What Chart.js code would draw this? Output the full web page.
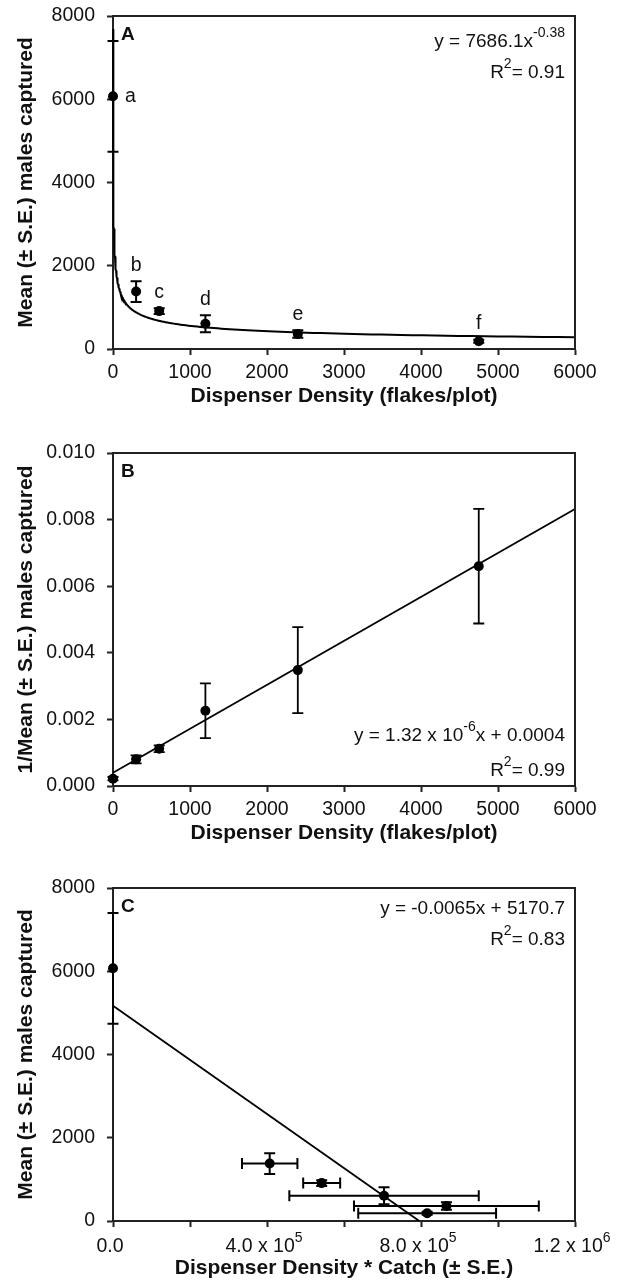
<!DOCTYPE html>
<html>
<head>
<meta charset="utf-8">
<title>Dispenser density vs males captured</title>
<style>
  html, body { margin: 0; padding: 0; background: #ffffff; overflow: hidden; width: 619px; height: 1287px; }
  .panel { position: absolute; left: 0; width: 619px; height: 437px; }
  canvas { display: block; }
</style>
<script src="https://cdn.jsdelivr.net/npm/chart.js@4.4.0/dist/chart.umd.min.js"></script>
</head>
<body>
<div class="panel" style="top:0px"><canvas id="chartA" width="619" height="437"></canvas></div>
<div class="panel" style="top:437px"><canvas id="chartB" width="619" height="437"></canvas></div>
<div class="panel" style="top:872px"><canvas id="chartC" width="619" height="437"></canvas></div>
<script>
// ---------------- DATA ----------------
const densities = [0, 300, 600, 1200, 2400, 4750];              // flakes/plot
const groupLetters = ['a', 'b', 'c', 'd', 'e', 'f'];
const meanCaptured = [6070, 1380, 910, 605, 360, 185];           // panel A & C y
const meanCapturedSE = [1330, 250, 70, 205, 90, 35];
const inverseMean = [0.00022, 0.0008, 0.00112, 0.00226, 0.00348, 0.0066];   // panel B y
const inverseMeanSE = [0.00005, 0.00012, 0.0001, 0.00082, 0.00129, 0.00172];
const densityTimesCatch = [0, 407000, 542000, 704000, 866000, 816000];     // panel C x
const densityTimesCatchSE = [0, 72000, 48000, 246000, 240000, 179000];

// fitted equations printed on the chart
const fitPowerCoef = 7686.1, fitPowerExp = -0.38;       // panel A
const fitBSlope = 1.32e-6, fitBIntercept = 0.0004;       // panel B
const fitCSlope = -0.0065, fitCIntercept = 5170.7;       // panel C

// tick values / labels
const yTicksCatch = [0, 2000, 4000, 6000, 8000];
const xTicksDensity = [0, 1000, 2000, 3000, 4000, 5000, 6000];
const yTicksInverse = [0, 0.002, 0.004, 0.006, 0.008, 0.010];
const xTickMarksC = [0, 200000, 400000, 600000, 800000, 1000000, 1200000];
const xLabelValuesC = [0, 400000, 800000, 1200000];
const xLabelBasesC = ['0.0', '4.0 x 10', '8.0 x 10', '1.2 x 10'];
const xLabelExpC = ['', '5', '5', '6'];

// ---------------- STYLE ----------------
const FONT = '"Liberation Sans", Arial, Helvetica, sans-serif';
const TEXT = '#111111';
const TICK_PX = 19.5;
const MAIN_FONT = '19px ' + FONT;
const SUP_FONT = '14px ' + FONT;

const panelAnnotations = {};

function drawRich(ctx, parts, x, y, align, mainFont, supFont, raise) {
  let total = 0;
  const widths = parts.map(([t, sup]) => {
    ctx.font = sup ? supFont : mainFont;
    const w = ctx.measureText(t).width;
    total += w;
    return w;
  });
  let cx = align === 'right' ? x - total : (align === 'center' ? x - total / 2 : x);
  ctx.textAlign = 'left';
  ctx.textBaseline = 'alphabetic';
  parts.forEach(([t, sup], i) => {
    ctx.font = sup ? supFont : mainFont;
    ctx.fillText(t, cx, sup ? y - raise : y);
    cx += widths[i];
  });
}

const errorBarPlugin = {
  id: 'errorBars',
  afterDatasetsDraw(chart) {
    const ctx = chart.ctx;
    const xs = chart.scales.x, ys = chart.scales.y;
    chart.data.datasets.forEach((ds) => {
      if (!ds.yErr && !ds.xErr) return;
      ctx.save();
      ctx.strokeStyle = '#000';
      ctx.lineWidth = ds.errWidth || 2;
      const cap = 5.5;
      ds.data.forEach((p, j) => {
        const px = xs.getPixelForValue(p.x), py = ys.getPixelForValue(p.y);
        if (ds.yErr && ds.yErr[j]) {
          const t = ys.getPixelForValue(p.y + ds.yErr[j]);
          const b = ys.getPixelForValue(p.y - ds.yErr[j]);
          ctx.beginPath();
          ctx.moveTo(px, t); ctx.lineTo(px, b);
          ctx.moveTo(px - cap, t); ctx.lineTo(px + cap, t);
          ctx.moveTo(px - cap, b); ctx.lineTo(px + cap, b);
          ctx.stroke();
        }
        if (ds.xErr && ds.xErr[j]) {
          const l = xs.getPixelForValue(p.x - ds.xErr[j]);
          const r = xs.getPixelForValue(p.x + ds.xErr[j]);
          ctx.beginPath();
          ctx.moveTo(l, py); ctx.lineTo(r, py);
          ctx.moveTo(l, py - cap); ctx.lineTo(l, py + cap);
          ctx.moveTo(r, py - cap); ctx.lineTo(r, py + cap);
          ctx.stroke();
        }
      });
      ctx.restore();
    });
  }
};

const annotationPlugin = {
  id: 'panelAnnotations',
  afterDraw(chart) {
    const ctx = chart.ctx;
    const a = chart.chartArea;
    const o = panelAnnotations[chart.canvas.id];
    if (!o) return;
    ctx.save();
    // frame top & right
    ctx.strokeStyle = '#222';
    ctx.lineWidth = 2;
    ctx.beginPath();
    ctx.moveTo(a.left, a.top); ctx.lineTo(a.right, a.top); ctx.lineTo(a.right, a.bottom);
    ctx.stroke();
    ctx.fillStyle = TEXT;
    // panel letter
    ctx.font = 'bold 19px ' + FONT;
    ctx.textAlign = 'left';
    ctx.textBaseline = 'middle';
    ctx.fillText(o.letter, a.left + 8, a.top + 19);
    // equation
    drawRich(ctx, o.eq, a.right - 10, o.eqY(a), 'right', MAIN_FONT, SUP_FONT, 10);
    drawRich(ctx, o.r2, a.right - 10, o.r2Y(a), 'right', MAIN_FONT, SUP_FONT, 10);
    // group letters
    if (o.groups) {
      const xs = chart.scales.x, ys = chart.scales.y;
      ctx.font = TICK_PX + 'px ' + FONT;
      ctx.textBaseline = 'middle';
      groupLetters.forEach((g, i) => {
        const px = xs.getPixelForValue(densities[i]);
        if (i === 0) {
          ctx.textAlign = 'left';
          ctx.fillText(g, px + 12, ys.getPixelForValue(meanCaptured[i]));
        } else {
          ctx.textAlign = 'center';
          ctx.fillText(g, px, ys.getPixelForValue(meanCaptured[i] + meanCapturedSE[i]) - 16);
        }
      });
    }
    // custom x labels with superscripts
    if (o.customXLabels) {
      const xs = chart.scales.x;
      xLabelValuesC.forEach((v, i) => {
        const px = xs.getPixelForValue(v);
        const parts = [[xLabelBasesC[i], false]];
        if (xLabelExpC[i]) parts.push([xLabelExpC[i], true]);
        drawRich(ctx, parts, px - 3, a.bottom + 31, 'center', TICK_PX + 'px ' + FONT, SUP_FONT, 10);
      });
    }
    ctx.restore();
  }
};

function makeChart(id, cfg) {
  panelAnnotations[id] = cfg.annotations;
  return new Chart(document.getElementById(id), {
    type: 'scatter',
    data: { datasets: cfg.datasets },
    plugins: [errorBarPlugin, annotationPlugin],
    options: {
      responsive: false,
      devicePixelRatio: 1,
      animation: false,
      events: [],
      layout: { padding: { top: 16, right: 44, left: 0, bottom: 0 } },
      plugins: {
        legend: { display: false },
        tooltip: { enabled: false }
      },
      scales: {
        x: {
          type: 'linear',
          min: cfg.xMin, max: cfg.xMax,
          afterBuildTicks: (s) => { s.ticks = cfg.xTicks.map(v => ({ value: v })); },
          afterFit: (s) => { s.height = 88; s.paddingLeft = 0; s.paddingRight = 0; },
          grid: { display: true, drawOnChartArea: false, drawTicks: true, tickLength: 6, tickWidth: 2, tickColor: '#222' },
          border: { display: true, color: '#222', width: 2 },
          ticks: {
            padding: 6,
            color: TEXT,
            font: { family: FONT, size: TICK_PX },
            maxRotation: 0,
            autoSkip: false,
            callback: cfg.xFormat
          },
          title: {
            display: true,
            text: cfg.xTitle,
            color: TEXT,
            font: { family: FONT, size: 21, weight: 'bold' },
            padding: { top: 0, bottom: 28.4 }
          }
        },
        y: {
          type: 'linear',
          min: cfg.yMin, max: cfg.yMax,
          afterBuildTicks: (s) => { s.ticks = cfg.yTicks.map(v => ({ value: v })); },
          afterFit: (s) => { s.width = 113; s.paddingTop = 0; s.paddingBottom = 0; },
          grid: { display: true, drawOnChartArea: false, drawTicks: true, tickLength: 6, tickWidth: 2, tickColor: '#222' },
          border: { display: true, color: '#222', width: 2 },
          ticks: {
            padding: 12,
            color: TEXT,
            font: { family: FONT, size: TICK_PX },
            autoSkip: false,
            callback: cfg.yFormat
          },
          title: {
            display: true,
            text: cfg.yTitle,
            color: TEXT,
            font: { family: FONT, size: 21, weight: 'bold' },
            padding: { top: 13.4, bottom: 0 }
          }
        }
      }
    }
  });
}

const pointStyle = {
  showLine: false,
  pointRadius: 5,
  pointBackgroundColor: '#000',
  pointBorderWidth: 0,
  clip: false
};
const lineStyle = {
  showLine: true,
  borderColor: '#000',
  borderWidth: 2,
  pointRadius: 0,
  tension: 0,
  clip: false
};

// ---------------- PANEL A ----------------
const curveA = [];
const curveSteps = 240;
for (let i = 0; i <= curveSteps; i++) {
  const x = Math.pow(10, Math.log10(6000) * i / curveSteps);
  curveA.push({ x: x, y: fitPowerCoef * Math.pow(x, fitPowerExp) });
}
makeChart('chartA', {
  xMin: 0, xMax: 6000, xTicks: xTicksDensity,
  yMin: 0, yMax: 8000, yTicks: yTicksCatch,
  xFormat: (v) => String(v), yFormat: (v) => String(v),
  xTitle: 'Dispenser Density (flakes/plot)',
  yTitle: 'Mean (\u00b1 S.E.) males captured',
  datasets: [
    Object.assign({ data: curveA }, lineStyle),
    Object.assign({
      data: densities.map((d, i) => ({ x: d, y: meanCaptured[i] })),
      yErr: meanCapturedSE, errWidth: 2
    }, pointStyle)
  ],
  annotations: {
    letter: 'A',
    eq: [['y = 7686.1x', false], ['-0.38', true]],
    r2: [['R', false], ['2', true], ['= 0.91', false]],
    eqY: (a) => a.top + 31,
    r2Y: (a) => a.top + 62,
    groups: true
  }
});

// ---------------- PANEL B ----------------
makeChart('chartB', {
  xMin: 0, xMax: 6000, xTicks: xTicksDensity,
  yMin: 0, yMax: 0.010, yTicks: yTicksInverse,
  xFormat: (v) => String(v), yFormat: (v) => Number(v).toFixed(3),
  xTitle: 'Dispenser Density (flakes/plot)',
  yTitle: '1/Mean (\u00b1 S.E.) males captured',
  datasets: [
    Object.assign({ data: [0, 6000].map(x => ({ x: x, y: fitBIntercept + fitBSlope * x })) }, lineStyle, { borderWidth: 1.8 }),
    Object.assign({
      data: densities.map((d, i) => ({ x: d, y: inverseMean[i] })),
      yErr: inverseMeanSE, errWidth: 1.8
    }, pointStyle)
  ],
  annotations: {
    letter: 'B',
    eq: [['y = 1.32 x 10', false], ['-6', true], ['x + 0.0004', false]],
    r2: [['R', false], ['2', true], ['= 0.99', false]],
    eqY: (a) => a.bottom - 45,
    r2Y: (a) => a.bottom - 10,
    groups: false
  }
});

// ---------------- PANEL C ----------------
const xInterceptC = -fitCIntercept / fitCSlope;
makeChart('chartC', {
  xMin: 0, xMax: 1200000, xTicks: xTickMarksC,
  yMin: 0, yMax: 8000, yTicks: yTicksCatch,
  xFormat: () => '', yFormat: (v) => String(v),
  xTitle: 'Dispenser Density * Catch (\u00b1 S.E.)',
  yTitle: 'Mean (\u00b1 S.E.) males captured',
  datasets: [
    Object.assign({ data: [0, xInterceptC].map(x => ({ x: x, y: fitCIntercept + fitCSlope * x })) }, lineStyle, { borderWidth: 1.8 }),
    Object.assign({
      data: densityTimesCatch.map((d, i) => ({ x: d, y: meanCaptured[i] })),
      yErr: meanCapturedSE, xErr: densityTimesCatchSE, errWidth: 2
    }, pointStyle)
  ],
  annotations: {
    letter: 'C',
    eq: [['y = -0.0065x + 5170.7', false]],
    r2: [['R', false], ['2', true], ['= 0.83', false]],
    eqY: (a) => a.top + 26,
    r2Y: (a) => a.top + 57,
    groups: false,
    customXLabels: true
  }
});
</script>
</body>
</html>
